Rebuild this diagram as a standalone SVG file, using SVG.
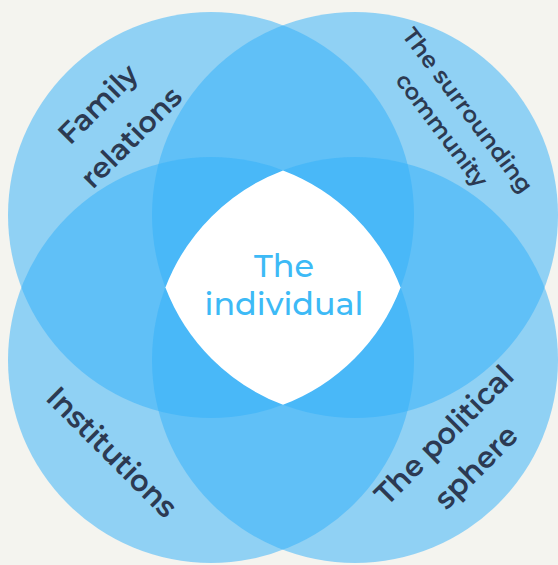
<svg xmlns="http://www.w3.org/2000/svg" width="558" height="565" viewBox="0 0 558 565">
  <style>
    .set { fill: #34b0fa; fill-opacity: 0.52; }
    .lbl { font-family: "Montserrat", "Inter", "DejaVu Sans", sans-serif; font-weight: 600; fill: #2c3a52; text-anchor: middle; }
    .core { font-family: "Montserrat", "Inter", "DejaVu Sans", sans-serif; font-weight: 500; fill: #3dbaf6; text-anchor: middle; font-size: 31px; }
  </style>
  <rect x="0" y="0" width="558" height="565" fill="#f4f4ef"/>
  <g id="sets">
    <circle id="set-family" class="set" cx="211" cy="215" r="203"/>
    <circle id="set-community" class="set" cx="355" cy="215" r="203"/>
    <circle id="set-institutions" class="set" cx="211" cy="360" r="203"/>
    <circle id="set-political" class="set" cx="355" cy="360" r="203"/>
  </g>
  <g id="connectors"></g>
  <g id="node-individual">
    <path d="M283,170.4 A203,203 0 0 1 400.6,287.5 A203,203 0 0 1 283,404.8 A203,203 0 0 1 165.4,287.5 A203,203 0 0 1 283,170.4 Z" fill="#ffffff"/>
    <text class="core" x="284" y="277" textLength="60" lengthAdjust="spacingAndGlyphs">The</text>
    <text class="core" x="284" y="315" textLength="159" lengthAdjust="spacingAndGlyphs">individual</text>
  </g>
  <g id="node-family" transform="translate(115,121) rotate(-45)">
    <text class="lbl" font-size="29" x="0" y="-14" textLength="99" lengthAdjust="spacingAndGlyphs">Family</text>
    <text class="lbl" font-size="29" x="0" y="33" textLength="129" lengthAdjust="spacingAndGlyphs">relations</text>
  </g>
  <g id="node-community" transform="translate(453,121.5) rotate(53)">
    <text class="lbl" font-size="23" x="0" y="-10.5" textLength="200" lengthAdjust="spacingAndGlyphs">The surrounding</text>
    <text class="lbl" font-size="23" x="0" y="22" textLength="136" lengthAdjust="spacingAndGlyphs">community</text>
  </g>
  <g id="node-institutions" transform="translate(112,452) rotate(45)">
    <text class="lbl" font-size="30" x="0" y="10.5" textLength="170" lengthAdjust="spacingAndGlyphs">Institutions</text>
  </g>
  <g id="node-political" transform="translate(462,453) rotate(-45)">
    <text class="lbl" font-size="30" x="0" y="-15" textLength="182" lengthAdjust="spacingAndGlyphs">The political</text>
    <text class="lbl" font-size="30" x="0" y="30" textLength="104" lengthAdjust="spacingAndGlyphs">sphere</text>
  </g>
</svg>
